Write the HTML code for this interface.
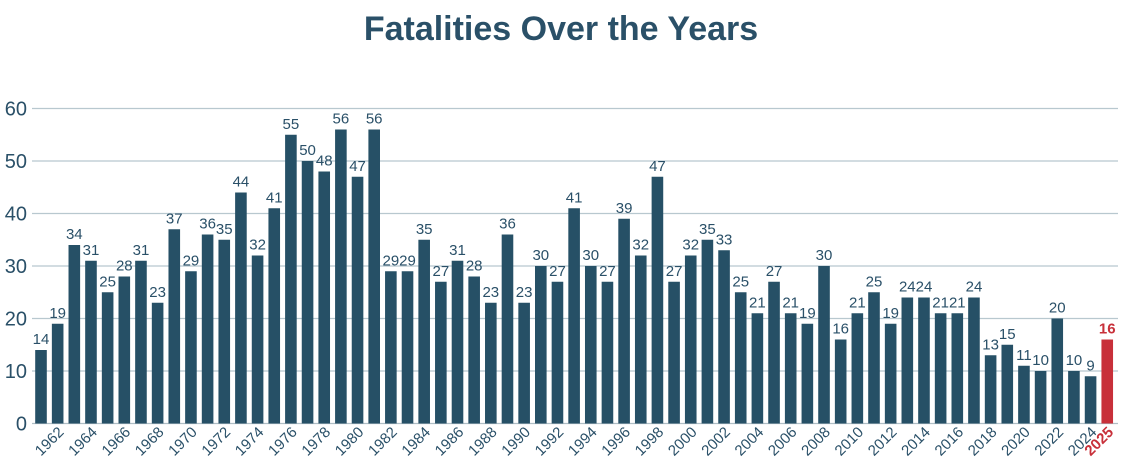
<!DOCTYPE html>
<html><head><meta charset="utf-8">
<style>
html,body{margin:0;padding:0;background:#fff;}
svg{display:block;font-family:"Liberation Sans",sans-serif;}
</style></head>
<body>
<svg id="c" width="1124" height="468" xmlns="http://www.w3.org/2000/svg">
<text x="561" y="40" text-anchor="middle" font-size="34" font-weight="bold" fill="#2a5068">Fatalities Over the Years</text>
<g id="g"></g>
</svg>
<script>
var v=[14,19,34,31,25,28,31,23,37,29,36,35,44,32,41,55,50,48,56,47,56,29,29,35,27,31,28,23,36,23,30,27,41,30,27,39,32,47,27,32,35,33,25,21,27,21,19,30,16,21,25,19,24,24,21,21,24,13,15,11,10,20,10,9,16];
var s='',y0=423.5,k=5.25;
for(var t=0;t<=60;t+=10){var y=y0-t*k;
s+='<line x1="32" x2="1118" y1="'+y+'" y2="'+y+'" stroke="'+(t?'#b8c8cf':'#b0bec5')+'" stroke-width="1.3"/>';
s+='<text x="27" y="'+(y+7)+'" text-anchor="end" font-size="20" fill="#2a5068">'+t+'</text>';}
for(var i=0;i<v.length;i++){var cx=41+i*16.66,h=v[i]*k,last=i==v.length-1,col=last?'#c8303a':'#265066';
s+='<rect x="'+(cx-5.8)+'" y="'+(y0-h)+'" width="11.6" height="'+h+'" fill="'+col+'"/>';
s+='<text x="'+cx+'" y="'+(y0-h-6)+'" text-anchor="middle" font-size="15" fill="'+(last?'#c8303a':'#2a5068')+'"'+(last?' font-weight="bold"':'')+'>'+v[i]+'</text>';
if(i%2==1||last){var yr=1961+i;
s+='<text transform="translate('+(cx+7)+',433) rotate(-45)" text-anchor="end" font-size="15" fill="'+(last?'#c8303a':'#2a5068')+'"'+(last?' font-weight="bold"':'')+'>'+yr+'</text>';}}
document.getElementById('g').innerHTML=s;
</script>
</body></html>
